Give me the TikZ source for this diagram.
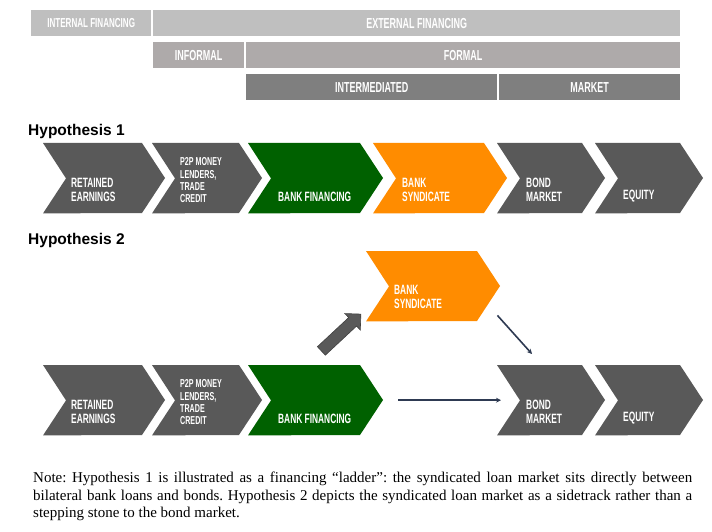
\documentclass[tikz,border=0pt]{standalone}
\usepackage{fontspec}
\setmainfont{Liberation Serif}
\setsansfont{Liberation Sans}
\newfontfamily\condfont[FakeStretch=0.62]{Liberation Sans Bold}
\usepackage{tikz}
\usetikzlibrary{calc, shapes.arrows, arrows.meta}
\usepackage{xcolor}

\definecolor{stepgrey}{HTML}{595959}
\definecolor{bankgreen}{HTML}{006100}
\definecolor{syndorange}{HTML}{FF8C00}
\definecolor{barlight}{HTML}{BFBFBF}
\definecolor{barwarm}{HTML}{AEAAAA}
\definecolor{bardark}{HTML}{7F7F7F}
\definecolor{linknavy}{HTML}{2E3A52}

% one chevron: name, left x, top y, length up to the tip, colour
\newcommand{\chev}[5]{%
  \node[inner sep=0pt, minimum width=#4pt, minimum height=70pt, anchor=north west] (#1) at (#2,#3) {};
  \fill[#5] (#1.north west) -- ++({#4-23},0) -- ++(23,35) -- ++(-23,35)
    -- (#1.south west) -- ++(23,-35) -- cycle;
}

\tikzset{
  bar/.style={fill=#1, inner sep=0pt, minimum height=26pt, anchor=north west,
    text=white, font=\condfont\fontsize{14.5}{15}\selectfont},
  steptext/.style={inner sep=0pt, anchor=south west, align=left, text=white,
    font=\condfont\fontsize{13.5}{14.5}\selectfont},
  smalltext/.style={steptext, font=\condfont\fontsize{11.5}{12.3}\selectfont},
  hyp/.style={anchor=west, inner sep=0pt, font=\sffamily\bfseries\fontsize{15.5}{18}\selectfont},
  link/.style={draw=linknavy, line width=1.6pt, -{Stealth[length=5pt,width=5pt]}},
}

\begin{document}
\begin{tikzpicture}[x=1pt, y=-1pt]
\useasboundingbox[fill=white] (0,0) rectangle (712,532);

% financing bars
\node[bar=barlight, minimum width=120pt, font=\condfont\fontsize{13}{14}\selectfont] (internal) at (31,10) {INTERNAL FINANCING};
\node[bar=barlight, minimum width=527pt] (external) at (153,10) {EXTERNAL FINANCING};
\node[bar=barwarm, minimum width=91pt] (informal) at (153,42) {INFORMAL};
\node[bar=barwarm, minimum width=434pt] (formal) at (246,42) {FORMAL};
\node[bar=bardark, minimum width=251pt] (intermed) at (246,74) {INTERMEDIATED};
\node[bar=bardark, minimum width=181pt] (market) at (499,74) {MARKET};

% Hypothesis 1
\node[hyp] (hypone) at (28,131) {Hypothesis 1};
\chev{reta}{43}{143}{122}{stepgrey}
\chev{infa}{152}{143}{110}{stepgrey}
\chev{banka}{248}{143}{135}{bankgreen}
\chev{synda}{373}{143}{134}{syndorange}
\chev{bonda}{497}{143}{108}{stepgrey}
\chev{equa}{595}{143}{108}{stepgrey}
\node[steptext] (retatext) at (71,202) {RETAINED\\EARNINGS};
\node[smalltext] (infatext) at (180,203) {P2P MONEY\\LENDERS,\\TRADE\\CREDIT};
\node[steptext] (bankatext) at (278,202) {BANK FINANCING};
\node[steptext] (syndatext) at (402,202) {BANK\\SYNDICATE};
\node[steptext] (bondatext) at (526,202) {BOND\\MARKET};
\node[steptext] (equatext) at (623,202) {EQUITY};

% Hypothesis 2
\node[hyp] (hyptwo) at (28,240) {Hypothesis 2};
\chev{retb}{43}{365}{122}{stepgrey}
\chev{infb}{152}{365}{110}{stepgrey}
\chev{bankb}{248}{365}{135}{bankgreen}
\chev{syndb}{366}{251}{134}{syndorange}
\chev{bondb}{497}{365}{108}{stepgrey}
\chev{equb}{595}{365}{108}{stepgrey}
\node[steptext] (retbtext) at (71,424) {RETAINED\\EARNINGS};
\node[smalltext] (infbtext) at (180,425) {P2P MONEY\\LENDERS,\\TRADE\\CREDIT};
\node[steptext] (bankbtext) at (278,424) {BANK FINANCING};
\node[steptext] (syndbtext) at (394,309) {BANK\\SYNDICATE};
\node[steptext] (bondbtext) at (526,424) {BOND\\MARKET};
\node[steptext] (equbtext) at (623,424) {EQUITY};

\node[single arrow, fill=stepgrey, draw=black!75, line width=0.6pt,
  minimum height=54pt, inner sep=5.5pt, single arrow head extend=5.5pt,
  rotate=43] (climb) at (339,334.5) {};
\draw[link] ($(syndb.south east)+(-3,-6)$) -- ($(bondb.north west)+(35,-11)$);
\draw[link, shorten <=15pt, shorten >=-4pt] (bankb.east) -- (bondb.west);

\node[anchor=north west, inner sep=0pt, text width=659pt, align=justify,
  font=\frenchspacing\fontsize{15}{17.5}\selectfont] (note) at (33,472)
  {Note: Hypothesis 1 is illustrated as a financing ``ladder'': the syndicated loan market sits directly between\linebreak
   bilateral bank loans and bonds. Hypothesis 2 depicts the syndicated loan market as a sidetrack rather than a\linebreak
   stepping stone to the bond market.};
\end{tikzpicture}
\end{document}
